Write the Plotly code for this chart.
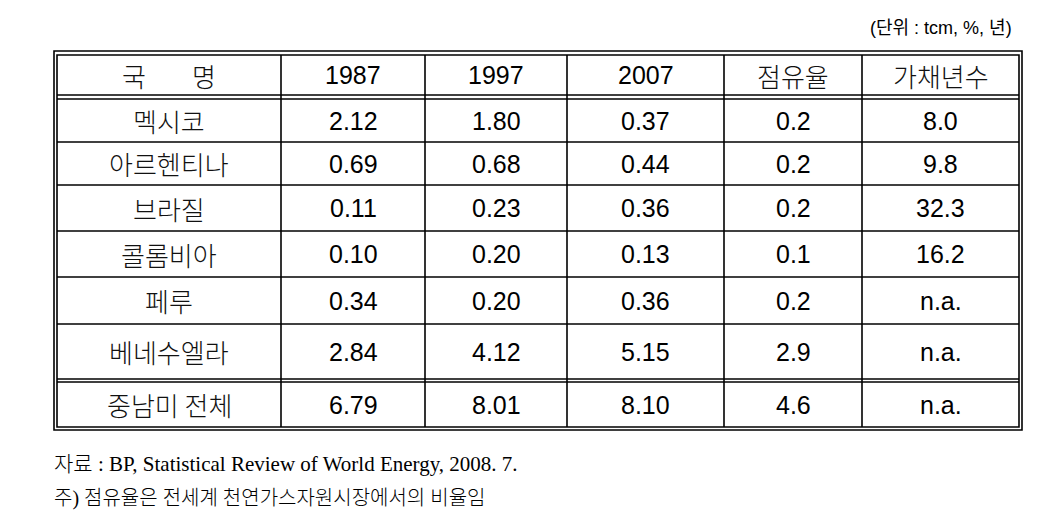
import plotly.graph_objects as go

# ---- data ----
header = ["국        명", "1987", "1997", "2007", "점유율", "가채년수"]
countries = ["멕시코", "아르헨티나", "브라질", "콜롬비아", "페루", "베네수엘라", "중남미 전체"]
v1987 = ["2.12", "0.69", "0.11", "0.10", "0.34", "2.84", "6.79"]
v1997 = ["1.80", "0.68", "0.23", "0.20", "0.20", "4.12", "8.01"]
v2007 = ["0.37", "0.44", "0.36", "0.13", "0.36", "5.15", "8.10"]
share = ["0.2", "0.2", "0.2", "0.1", "0.2", "2.9", "4.6"]
rp_years = ["8.0", "9.8", "32.3", "16.2", "n.a.", "n.a.", "n.a."]
unit_text = "(단위 : tcm, %, 년)"
source_text = "자료 : BP, Statistical Review of World Energy, 2008. 7."
note_text = "주) 점유율은 전세계 천연가스자원시장에서의 비율임"

# ---- layout geometry (pixels) ----
W, H = 1054, 511
col_edges = [49, 273, 417, 559, 716, 854, 1011]
row_edges = [47, 87, 91, 134, 177, 223, 269, 316, 371, 374, 419]
bands = [(47, 87), (91, 134), (134, 177), (177, 223), (223, 269), (269, 316), (316, 371), (374, 419)]

fig = go.Figure()
shapes = []
LW = 1.6
LC = "black"

def hline(y, x0, x1):
    shapes.append(dict(type="line", xref="x", yref="y", x0=x0, x1=x1, y0=y, y1=y,
                       line=dict(color=LC, width=LW)))

def vline(x, y0, y1):
    shapes.append(dict(type="line", xref="x", yref="y", x0=x, x1=x, y0=y0, y1=y1,
                       line=dict(color=LC, width=LW)))

shapes.append(dict(type="rect", xref="x", yref="y", x0=46, x1=1014, y0=43, y1=422,
                   line=dict(color=LC, width=LW)))
shapes.append(dict(type="rect", xref="x", yref="y", x0=49, x1=1011, y0=47, y1=419,
                   line=dict(color=LC, width=LW)))
for y in row_edges[1:-1]:
    hline(y, 49, 1011)
for x in col_edges[1:-1]:
    vline(x, 47, 419)

annotations = []
num_font = dict(family="Liberation Sans, Arial, sans-serif", size=25, color="black")
kor_font = dict(family="Noto Sans CJK KR, sans-serif", size=26, color="#111111", weight=300)

def cell(text, ci, ri, font):
    x = (col_edges[ci] + col_edges[ci + 1]) / 2
    y = (bands[ri][0] + bands[ri][1]) / 2
    annotations.append(dict(x=x, y=y, xref="x", yref="y", text=text, showarrow=False,
                            xanchor="center", yanchor="middle", font=font))

for ci, h in enumerate(header):
    cell(h, ci, 0, num_font if h.isdigit() else kor_font)

cols = [countries, v1987, v1997, v2007, share, rp_years]
for ci, col in enumerate(cols):
    for ri, val in enumerate(col):
        cell(val, ci, ri + 1, kor_font if ci == 0 else num_font)

annotations.append(dict(x=1006, y=20, xref="x", yref="y", text=unit_text, showarrow=False,
                        xanchor="right", yanchor="middle",
                        font=dict(family="Liberation Sans Narrow, Liberation Sans, Noto Sans CJK KR", size=18, color="black")))
annotations.append(dict(x=44, y=456, xref="x", yref="y", text=source_text, showarrow=False,
                        xanchor="left", yanchor="middle",
                        font=dict(family="Liberation Serif, Noto Sans CJK KR", size=21, color="black", weight=300)))
annotations.append(dict(x=44, y=490, xref="x", yref="y", text=note_text, showarrow=False,
                        xanchor="left", yanchor="middle",
                        font=dict(family="Liberation Serif, Noto Sans CJK KR", size=20, color="black", weight=300)))

fig.update_layout(
    width=W, height=H,
    margin=dict(l=0, r=0, t=0, b=0),
    paper_bgcolor="white", plot_bgcolor="white",
    xaxis=dict(range=[0, W], visible=False, fixedrange=True),
    yaxis=dict(range=[H, 0], visible=False, fixedrange=True),
    shapes=shapes, annotations=annotations, showlegend=False,
)
fig.write_html("out.html", config={"displayModeBar": False})
